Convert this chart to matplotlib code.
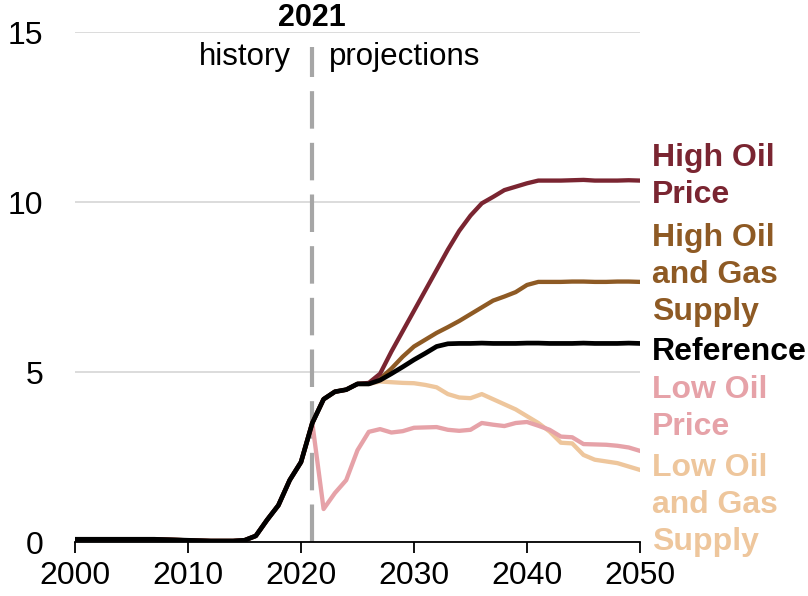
import matplotlib
matplotlib.use("Agg")
import matplotlib.pyplot as plt
import numpy as np

plt.rcParams['font.family'] = ['Liberation Sans', 'DejaVu Sans']

years = list(range(2000, 2051))

history = [0.08, 0.08, 0.08, 0.08, 0.08, 0.08, 0.08, 0.08, 0.07, 0.06,
           0.05, 0.04, 0.03, 0.03, 0.03, 0.05, 0.18, 0.65, 1.08, 1.82,
           2.35, 3.5]

reference_proj = [4.2, 4.42, 4.48, 4.65, 4.65, 4.76, 4.95, 5.15, 5.36, 5.55,
                  5.75, 5.83, 5.84, 5.84, 5.85, 5.84, 5.84, 5.84, 5.85, 5.85,
                  5.84, 5.84, 5.84, 5.85, 5.84, 5.84, 5.84, 5.85, 5.84]
high_oil_price_proj = [4.2, 4.42, 4.48, 4.65, 4.68, 4.95, 5.6, 6.2, 6.8, 7.4,
                       8.0, 8.6, 9.15, 9.6, 9.96, 10.15, 10.35, 10.45, 10.55, 10.63,
                       10.63, 10.63, 10.64, 10.65, 10.63, 10.63, 10.63, 10.64, 10.63]
high_oil_gas_proj = [4.2, 4.42, 4.48, 4.65, 4.65, 4.8, 5.1, 5.45, 5.75, 5.95,
                     6.15, 6.32, 6.5, 6.7, 6.9, 7.1, 7.22, 7.35, 7.56, 7.65,
                     7.65, 7.65, 7.66, 7.66, 7.65, 7.65, 7.66, 7.66, 7.65]
low_oil_price_proj = [0.97, 1.44, 1.82, 2.7, 3.24, 3.32, 3.22, 3.26, 3.36, 3.37,
                      3.38, 3.3, 3.27, 3.3, 3.5, 3.45, 3.41, 3.5, 3.53, 3.42,
                      3.3, 3.1, 3.08, 2.88, 2.87, 2.86, 2.83, 2.78, 2.68]
low_oil_gas_proj = [4.2, 4.42, 4.48, 4.65, 4.65, 4.72, 4.7, 4.68, 4.67, 4.62,
                    4.55, 4.35, 4.25, 4.23, 4.35, 4.2, 4.05, 3.9, 3.7, 3.5,
                    3.25, 2.92, 2.9, 2.56, 2.42, 2.37, 2.32, 2.22, 2.12]

series_names = ["Low Oil\nand Gas\nSupply", "Low Oil\nPrice", "High Oil\nand Gas\nSupply",
                "High Oil\nPrice", "Reference"]
series_proj = [low_oil_gas_proj, low_oil_price_proj, high_oil_gas_proj,
               high_oil_price_proj, reference_proj]
colors = ["#EEC69C", "#E6A2A8", "#8E5A24", "#7A2531", "#000000"]
label_y = [1.08, 3.93, 7.86, 10.76, 5.6]

x_ticks = [2000, 2010, 2020, 2030, 2040, 2050]
y_ticks = [0, 5, 10, 15]
divider_year = 2021

fig = plt.figure(figsize=(8.08, 5.96), dpi=100)
ax = fig.add_axes([75/808, 1-542/596, (640-75)/808, (542-32)/596])

for name, proj, c, ly in zip(series_names, series_proj, colors, label_y):
    vals = history + proj
    lw = 3.4 if c == "#000000" else 3.1
    ax.plot(years, vals, color=c, lw=lw, solid_joinstyle='round', zorder=5)
    ax.text(2051.05, ly, name, color=c, fontsize=23, fontweight='bold',
            ha='left', va='center', linespacing=1.31, clip_on=False)

ax.plot([divider_year, divider_year], [0, 14.55], color="#A6A6A6", lw=3,
        dashes=(9, 3.4), zorder=4)
ax.text(divider_year, 15.41, "2021", fontsize=22, fontweight='bold', ha='center', va='center')
ax.text(divider_year - 1.9, 14.27, "history", fontsize=22.5, ha='right', va='center')
ax.text(divider_year + 1.5, 14.27, "projections", fontsize=22.5, ha='left', va='center')

ax.set_xlim(2000, 2050)
ax.set_ylim(0, 15)
ax.set_xticks(x_ticks)
ax.set_yticks(y_ticks)
ax.yaxis.grid(True, color="#D9D9D9", lw=1.3)
ax.set_axisbelow(True)
for s in ['top', 'right', 'left']:
    ax.spines[s].set_visible(False)
ax.spines['bottom'].set_color('black')
ax.spines['bottom'].set_linewidth(1.3)
ax.spines['bottom'].set_zorder(6)
ax.tick_params(axis='x', direction='out', length=8, width=1.3, labelsize=23, pad=6)
ax.tick_params(axis='y', length=0, labelsize=23, pad=23)

fig.savefig("out.png", dpi=100)
